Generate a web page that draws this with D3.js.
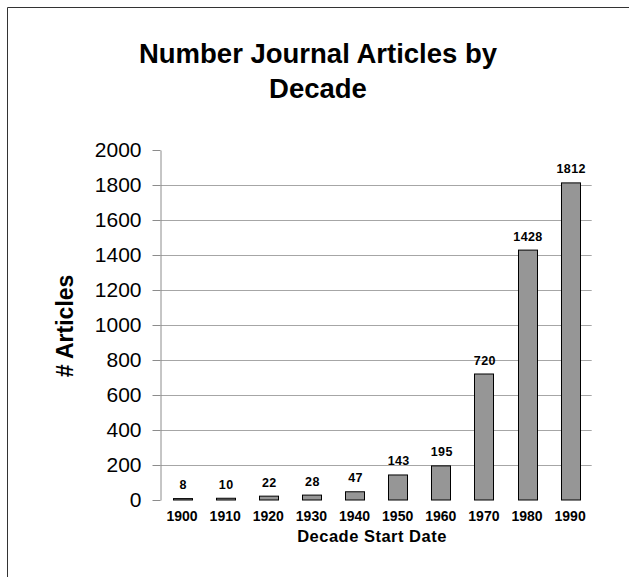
<!DOCTYPE html>
<html>
<head>
<meta charset="utf-8">
<script src="https://cdn.jsdelivr.net/npm/d3@7"></script>
<style>
  html, body { margin: 0; padding: 0; background: #fff; }
  svg { display: block; font-family: "Liberation Sans", Arial, sans-serif; }
</style>
</head>
<body>
<svg id="chart" width="629" height="577"></svg>
<script>
// Articles published per decade
const decades = ["1900", "1910", "1920", "1930", "1940", "1950", "1960", "1970", "1980", "1990"];
const articleCounts = [8, 10, 22, 28, 47, 143, 195, 720, 1428, 1812];
const yTicks = [0, 200, 400, 600, 800, 1000, 1200, 1400, 1600, 1800, 2000];
const titleLines = ["Number Journal Articles by", "Decade"];

const svg = d3.select("#chart");
const W = 629, H = 577;
const plot = { left: 160.5, right: 591.7, top: 150, bottom: 500 };

// outer frame (top and left edges)
svg.append("path")
  .attr("d", `M7.5,${H} V7.5 H${W}`)
  .attr("fill", "none")
  .attr("stroke", "#333")
  .attr("stroke-width", 1);

const x = d3.scaleBand()
  .domain(decades)
  .range([plot.left, plot.right])
  .paddingInner(0.56)
  .paddingOuter(0.28);

const y = d3.scaleLinear()
  .domain([0, 2000])
  .range([plot.bottom, plot.top]);

// horizontal gridlines
svg.append("g")
  .selectAll("line")
  .data(yTicks.filter(t => t > 0 && t < 2000))
  .join("line")
  .attr("x1", plot.left)
  .attr("x2", plot.right)
  .attr("y1", d => Math.round(y(d)) + 0.5)
  .attr("y2", d => Math.round(y(d)) + 0.5)
  .attr("stroke", "#a6a6a6")
  .attr("stroke-width", 1);

// y axis
const yAxis = svg.append("g")
  .attr("transform", `translate(${plot.left},0)`)
  .call(d3.axisLeft(y)
    .tickValues(yTicks)
    .tickFormat(d3.format("d"))
    .tickSize(8)
    .tickPadding(11)
    .tickSizeOuter(0));
yAxis.select(".domain").attr("stroke", "#8c8c8c");
yAxis.selectAll(".tick line").attr("stroke", "#8c8c8c");
yAxis.selectAll(".tick text")
  .attr("fill", "#000")
  .style("font-family", "'Liberation Sans', Arial, sans-serif")
  .style("font-size", "21px");

// bars
svg.append("g")
  .selectAll("rect")
  .data(articleCounts)
  .join("rect")
  .attr("x", (d, i) => Math.round(x(decades[i])) + 0.5)
  .attr("y", d => y(d))
  .attr("width", Math.round(x.bandwidth()))
  .attr("height", d => plot.bottom - y(d))
  .attr("fill", "#969696")
  .attr("stroke", "#000")
  .attr("stroke-width", 1);

// value labels
svg.append("g")
  .selectAll("text")
  .data(articleCounts)
  .join("text")
  .attr("x", (d, i) => x(decades[i]) + x.bandwidth() / 2 + 1)
  .attr("y", d => y(d) - 9.5)
  .attr("text-anchor", "middle")
  .style("font-size", "12.5px")
  .style("font-weight", "bold")
  .style("letter-spacing", "0.4px")
  .text(d => d);

// category labels
svg.append("g")
  .selectAll("text")
  .data(decades)
  .join("text")
  .attr("x", d => x(d) + x.bandwidth() / 2)
  .attr("y", 521)
  .attr("text-anchor", "middle")
  .style("font-size", "14px")
  .style("font-weight", "bold")
  .text(d => d);

// x axis title
svg.append("text")
  .attr("x", 372)
  .attr("y", 542)
  .attr("text-anchor", "middle")
  .style("font-size", "16.5px")
  .style("font-weight", "bold")
  .style("letter-spacing", "0.5px")
  .text("Decade Start Date");

// y axis title
svg.append("text")
  .attr("transform", "translate(73,326) rotate(-90)")
  .attr("text-anchor", "middle")
  .style("font-size", "23px")
  .style("font-weight", "bold")
  .text("# Articles");

// chart title
svg.append("g")
  .selectAll("text")
  .data(titleLines)
  .join("text")
  .attr("x", 318)
  .attr("y", (d, i) => 63 + i * 35)
  .attr("text-anchor", "middle")
  .style("font-size", "27.5px")
  .style("font-weight", "bold")
  .text(d => d);
</script>
</body>
</html>
